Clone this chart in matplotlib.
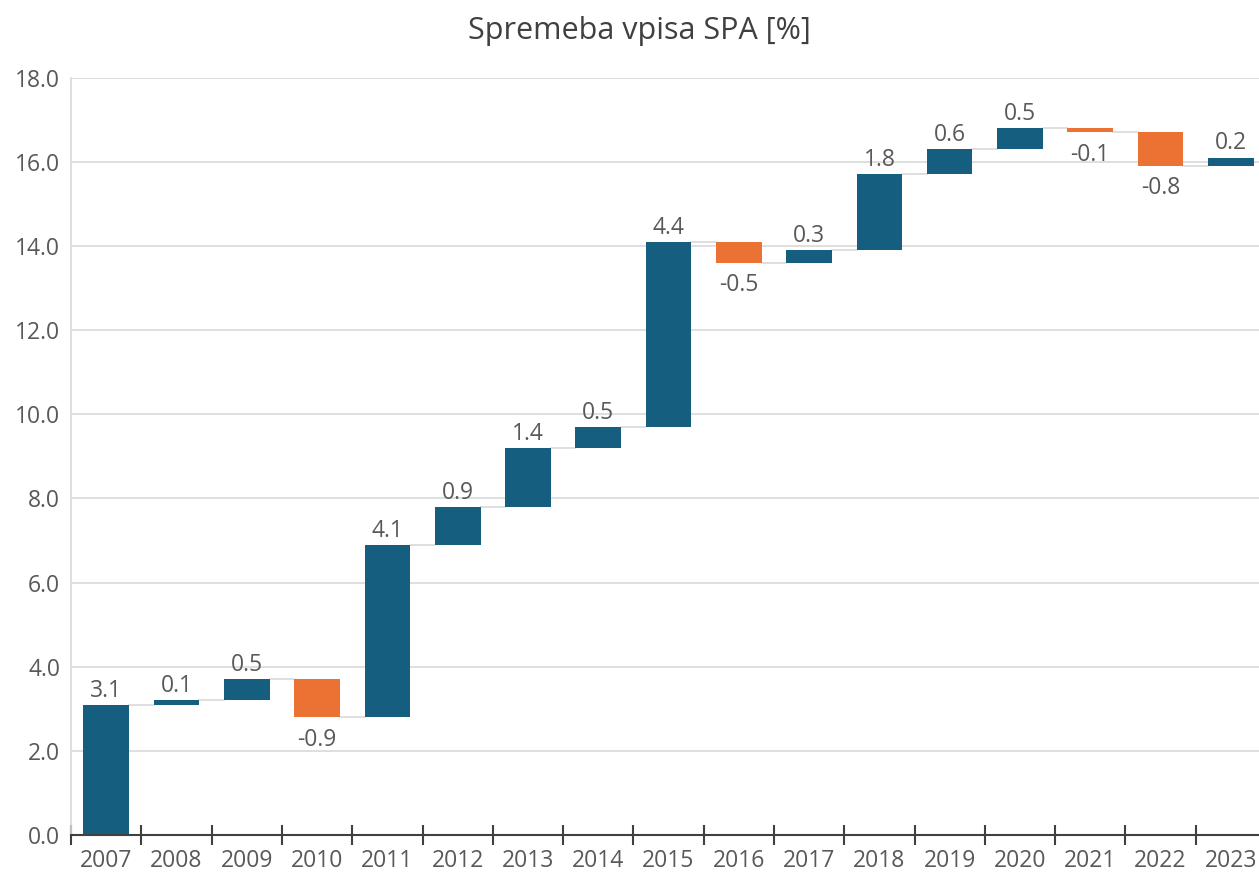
import matplotlib.pyplot as plt
import numpy as np

plt.rcParams['font.family'] = ['Open Sans', 'DejaVu Sans']

years = [str(y) for y in range(2007, 2024)]
changes = [3.1, 0.1, 0.5, -0.9, 4.1, 0.9, 1.4, 0.5, 4.4, -0.5, 0.3, 1.8, 0.6, 0.5, -0.1, -0.8, 0.2]

blue = '#165E80'
orange = '#EB7232'
txt = '#595959'

changes = np.array(changes)
ends = np.cumsum(changes)
starts = ends - changes
x = np.arange(len(years))

fig = plt.figure(figsize=(12.59, 8.81), dpi=100)
ax = fig.add_axes([0.0565, 0.052, 0.949, 0.86])

colors = [blue if c >= 0 else orange for c in changes]
ax.bar(x, changes, bottom=starts, width=0.65, color=colors, zorder=3)

# connectors
for i in range(len(x) - 1):
    ax.plot([x[i] + 0.325, x[i + 1] - 0.325], [ends[i], ends[i]],
            color='#D9D9D9', lw=1.2, zorder=2)

for i, c in enumerate(changes):
    if c >= 0:
        ax.text(x[i], ends[i] + 0.05, f'{c:.1f}', ha='center', va='bottom',
                fontsize=16.5, color=txt)
    else:
        ax.text(x[i], ends[i] - 0.25, f'{c:.1f}', ha='center', va='top',
                fontsize=16.5, color=txt)

ax.set_xlim(-0.5, 16.5)
ax.set_ylim(0, 18)
ax.set_yticks(np.arange(0, 18.1, 2))
ax.set_yticklabels([f'{v:.1f}' for v in np.arange(0, 18.1, 2)])
ax.yaxis.grid(True, color='#D9D9D9', lw=1.2, zorder=0)
ax.set_axisbelow(True)

ax.set_xticks(x)
ax.set_xticklabels(years)
ax.set_xticks(np.arange(-0.5, 16.6, 1), minor=True)
ax.tick_params(axis='x', which='major', length=0, pad=10, labelsize=16.5, labelcolor=txt)
ax.tick_params(axis='x', which='minor', length=14, width=1.5, direction='inout', color='#404040')
ax.tick_params(axis='y', length=0, pad=8, labelsize=16.5, labelcolor=txt)

for s in ['top', 'right']:
    ax.spines[s].set_visible(False)
ax.spines['left'].set_color('#D9D9D9')
ax.spines['left'].set_linewidth(1.2)
ax.spines['bottom'].set_color('#404040')
ax.spines['bottom'].set_linewidth(1.5)
ax.spines['bottom'].set_zorder(4)

fig.text(0.508, 0.965, 'Spremeba vpisa SPA [%]', ha='center', va='center',
         fontsize=22, color='#404040')

fig.savefig('out.png', dpi=100)
